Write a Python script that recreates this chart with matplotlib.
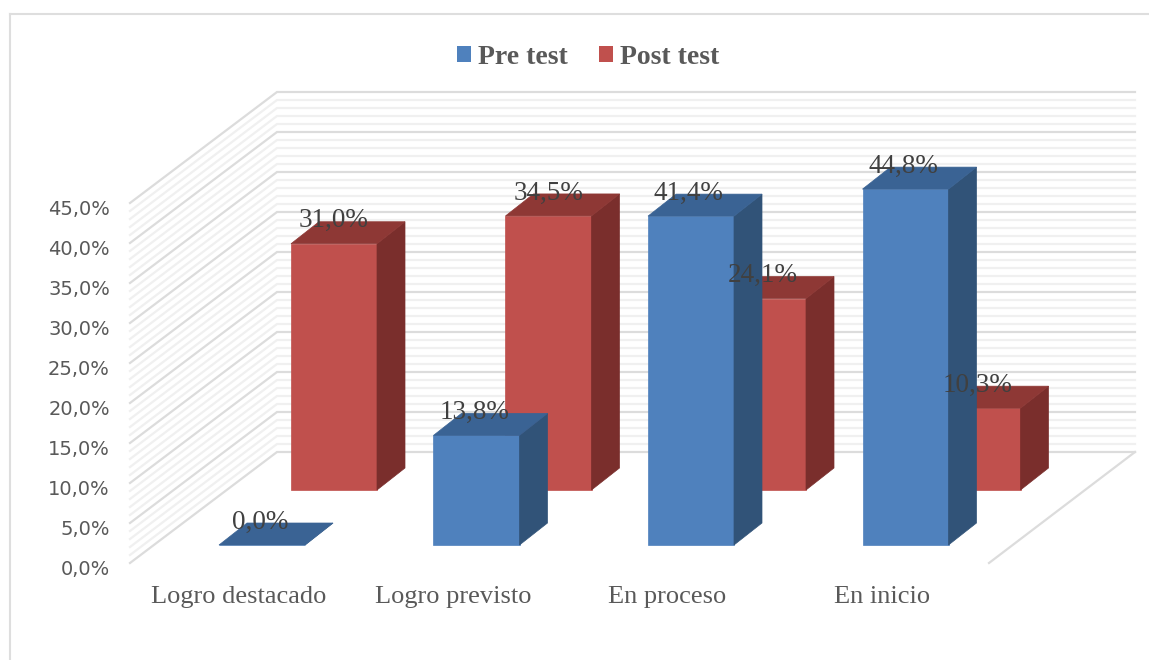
import matplotlib
matplotlib.use('Agg')
import matplotlib.pyplot as plt
from matplotlib.patches import Polygon, Patch

categories = ['Logro destacado', 'Logro previsto', 'En proceso', 'En inicio']
pre_test = [0.0, 13.8, 41.4, 44.8]
post_test = [31.0, 34.5, 24.1, 10.3]
y_ticks = [0, 5, 10, 15, 20, 25, 30, 35, 40, 45]

# Adjustable (the axes run in category units and percent)
px_x = 214.5            # pixels per category
px_y = 8.0              # pixels per percent
x0 = 262                # pixel of first front bar centre
y0 = 545                # pixel of 0% on front bars
bar_w = 86 / px_x
bar_scale = 0.993       # bars come out a little shorter than the walls
dep_x = 28 / px_x       # bar depth
dep_y = 22 / px_y
post_dx = 72 / px_x     # back row offset
post_dy = 55 / px_y

wall_left = (277 - x0) / px_x
wall_right = (1135 - x0) / px_x
wall_base = (y0 - 452) / px_y
side_x = (130 - x0) / px_x
side_base = (y0 - 563) / px_y
floor_x = (989 - x0) / px_x

grid_major = '#dcdcdc'
grid_minor = '#f0f0f0'
text_grey = '#595959'
label_grey = '#404040'
serif = 'Liberation Serif'


def draw_bar(ax, x, base, value, front, side, top, z):
    left = x - bar_w / 2
    right = x + bar_w / 2
    height = base + value * bar_scale
    ax.add_patch(Polygon([(left, base), (right, base), (right, height), (left, height)],
                         facecolor=front, edgecolor=front, lw=0.5, zorder=z))
    ax.add_patch(Polygon([(right, base), (right + dep_x, base + dep_y),
                          (right + dep_x, height + dep_y), (right, height)],
                         facecolor=side, edgecolor=side, lw=0.5, zorder=z))
    ax.add_patch(Polygon([(left, height), (right, height),
                          (right + dep_x, height + dep_y), (left + dep_x, height + dep_y)],
                         facecolor=top, edgecolor=top, lw=0.5, zorder=z))


def pct(v):
    return f'{v:.1f}%'.replace('.', ',')


fig = plt.figure(figsize=(11.49, 6.6), dpi=100)
ax = fig.add_axes([0, 0, 1, 1])
ax.set_xlim(-x0 / px_x, (1149 - x0) / px_x)
ax.set_ylim((y0 - 660) / px_y, y0 / px_y)
ax.axis('off')

# Chart frame
ax.plot([(10 - x0) / px_x, (10 - x0) / px_x], [(y0 - 660) / px_y, (y0 - 14) / px_y], color='#dedede', lw=1.5)
ax.plot([(10 - x0) / px_x, (1149 - x0) / px_x], [(y0 - 14) / px_y, (y0 - 14) / px_y], color='#dedede', lw=1.5)

# Walls, every 1% with a stronger line every 5%
for v in range(0, 46):
    major = v % 5 == 0
    color = grid_major if major else grid_minor
    z = 2 if major else 1
    ax.plot([side_x, wall_left, wall_right], [side_base + v, wall_base + v, wall_base + v],
            color=color, lw=1.6, zorder=z, solid_joinstyle='miter')
ax.plot([floor_x, wall_right], [side_base, wall_base], color=grid_major, lw=1.6, zorder=2)

# Bars, back row first
for i, v in enumerate(post_test):
    draw_bar(ax, i + post_dx, post_dy, v, '#C0504D', '#7A2E2C', '#8E3835', 3)
for i, v in enumerate(pre_test):
    draw_bar(ax, i, 0, v, '#4F81BD', '#315378', '#3A6394', 4)

# Data labels
for i, v in enumerate(post_test):
    ax.annotate(pct(v), (i + post_dx, post_dy + v * bar_scale), xytext=(0, 16.5), textcoords='offset points',
                ha='center', va='center', fontsize=19.5, family=serif, color=label_grey, zorder=5)
for i, v in enumerate(pre_test):
    ax.annotate(pct(v), (i, v * bar_scale), xytext=(-1.5, 16.5), textcoords='offset points',
                ha='center', va='center', fontsize=19.5, family=serif, color=label_grey, zorder=5)

# Axis labels
for v in y_ticks:
    ax.text((110 - x0) / px_x, side_base + v - 0.8, pct(v), ha='right', va='center',
            fontsize=14, color=text_grey)
for i, name in enumerate(categories):
    ax.text(i - 23.5 / px_x, -6.45, name, ha='center', va='center', fontsize=19, family=serif, color=text_grey)

handles = [Patch(facecolor='#4F81BD', label='Pre test'), Patch(facecolor='#C0504D', label='Post test')]
ax.legend(handles=handles, loc='center', bbox_to_anchor=(588 / 1149, 1 - 57 / 660), ncol=2, frameon=False,
          prop={'family': serif, 'weight': 'bold', 'size': 20}, labelcolor=text_grey,
          handlelength=0.5, handleheight=0.5, handletextpad=0.25, columnspacing=1.15)

fig.savefig('out.png', dpi=100)
